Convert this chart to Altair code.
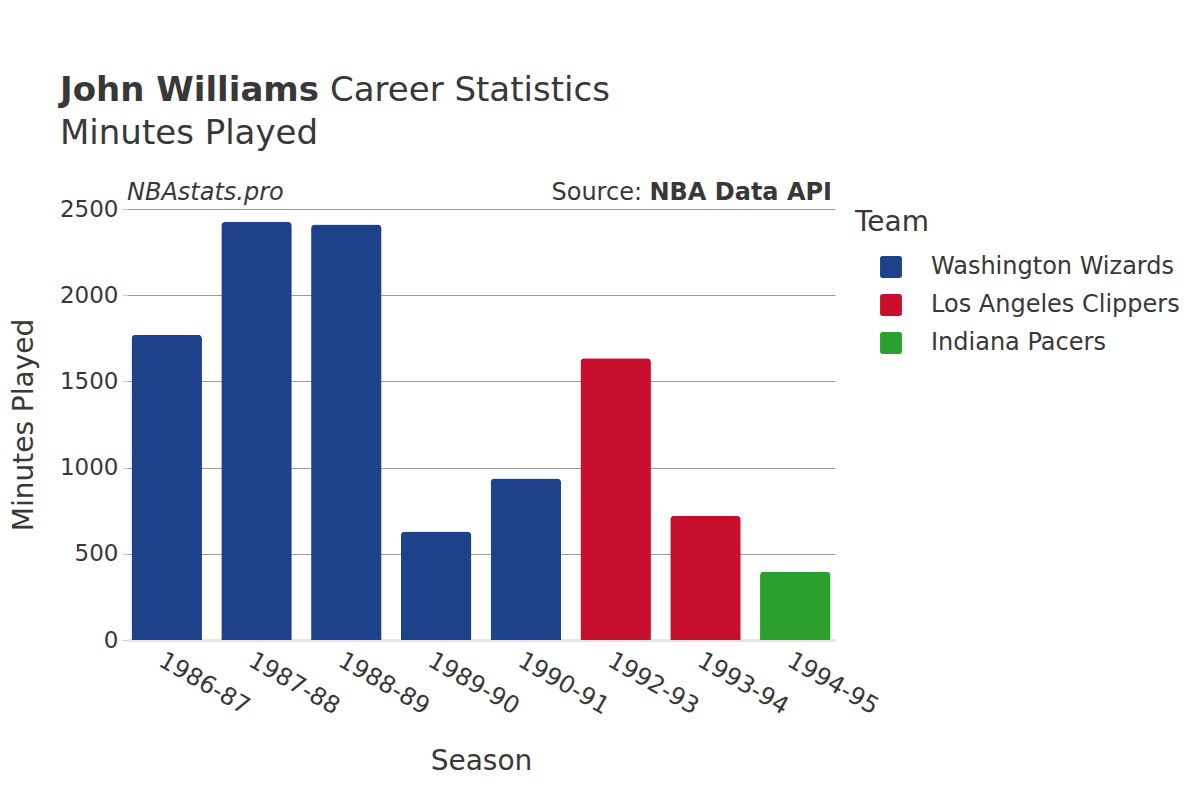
import altair as alt
import pandas as pd

seasons = ["1986-87", "1987-88", "1988-89", "1989-90", "1990-91", "1992-93", "1993-94", "1994-95"]
minutes = [1770, 2425, 2410, 629, 937, 1635, 720, 397]
teams = ["Washington Wizards", "Washington Wizards", "Washington Wizards", "Washington Wizards",
         "Washington Wizards", "Los Angeles Clippers", "Los Angeles Clippers", "Indiana Pacers"]
team_order = ["Washington Wizards", "Los Angeles Clippers", "Indiana Pacers"]
team_colors = ["#1d428a", "#c8102e", "#2ca02c"]

df = pd.DataFrame({"Season": seasons, "Minutes": minutes, "Team": teams})

FONT = "DejaVu Sans"
TXT = "#383838"
ox, oy = 127, 209
W, H = 708, 431

rounded_sq = ("M -0.75 -1 L 0.75 -1 Q 1 -1 1 -0.75 L 1 0.75 Q 1 1 0.75 1 L -0.75 1 "
              "Q -1 1 -1 0.75 L -1 -0.75 Q -1 -1 -0.75 -1 Z")

bars = alt.Chart(df).mark_bar(cornerRadiusTopLeft=4, cornerRadiusTopRight=4).encode(
    x=alt.X("Season:N", sort=seasons, title="Season",
            scale=alt.Scale(paddingInner=0.215, paddingOuter=0.05),
            axis=alt.Axis(labelAngle=30, labelFontSize=24, titleFontSize=28, titlePadding=29,
                          labelColor=TXT, titleColor=TXT, ticks=False, labelPadding=8,
                          domainColor="#e6e6e6", domainWidth=3, labelFont=FONT, titleFont=FONT,
                          titleFontWeight="normal")),
    y=alt.Y("Minutes:Q", title="Minutes Played",
            scale=alt.Scale(domain=[0, 2500]),
            axis=alt.Axis(values=[0, 500, 1000, 1500, 2000, 2500], format="d", labelFontSize=23,
                          titleFontSize=28, titlePadding=21, labelColor=TXT, titleColor=TXT,
                          domain=False, gridColor="#9a9a9a", gridWidth=1, tickColor="#cccccc",
                          tickSize=5, labelPadding=4, labelFont=FONT, titleFont=FONT,
                          titleFontWeight="normal")),
    color=alt.Color("Team:N", sort=team_order,
                    scale=alt.Scale(domain=team_order, range=team_colors),
                    legend=alt.Legend(title="Team", titleFontSize=28, labelFontSize=24,
                                      titleColor=TXT, labelColor=TXT, symbolType=rounded_sq,
                                      symbolSize=480, symbolOpacity=1, rowPadding=14,
                                      labelOffset=28, symbolOffset=24, offset=20, labelLimit=0,
                                      titleFont=FONT, labelFont=FONT, titleFontWeight="normal",
                                      titlePadding=18, symbolStrokeWidth=0)),
)

def txt(text, x, y, size, weight="normal", style="normal", align="left"):
    return alt.Chart(pd.DataFrame({"t": [text]})).mark_text(
        align=align, baseline="alphabetic", fontSize=size, fontWeight=weight,
        fontStyle=style, font=FONT, color=TXT,
    ).encode(text="t:N", x=alt.value(x), y=alt.value(y))

layers = [
    bars,
    txt("John Williams", 60 - ox, 101 - oy, 34, weight="bold"),
    txt("Career Statistics", 330 - ox, 101 - oy, 34),
    txt("Minutes Played", 60 - ox, 144 - oy, 34),
    txt("NBAstats.pro", 127 - ox, 200 - oy, 24, style="italic"),
    txt("NBA Data API", 832 - ox, 200 - oy, 24, weight="bold", align="right"),
    txt("Source:", 642 - ox, 200 - oy, 24, align="right"),
]

chart = alt.layer(*layers).properties(
    width=W, height=H,
    autosize=alt.AutoSizeParams(type="none"),
    padding={"left": ox - 8, "top": oy - 8, "right": 1200 - 8 - ox - W, "bottom": 800 - 8 - oy - H},
).configure(background="white").configure_view(stroke=None)

chart.save("out.html", embed_options={"renderer": "svg", "actions": False})
